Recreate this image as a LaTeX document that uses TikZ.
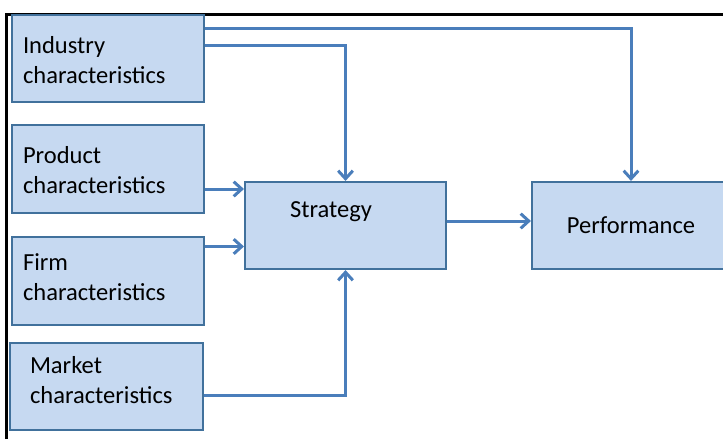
\documentclass[tikz,border=0pt]{standalone}
\usepackage{fontspec}
\setmainfont{Carlito}
\usetikzlibrary{arrows.meta,calc}
\definecolor{boxfill}{HTML}{C6D9F1}
\definecolor{boxline}{HTML}{41719C}
\definecolor{connblue}{HTML}{4A7EBB}
\tikzset{
  boxfont/.style={font=\fontsize{18.4}{22.5}\selectfont},
  box/.style={draw=boxline, fill=boxfill, line width=1.6pt, inner sep=0pt,
    minimum height=65.25pt, boxfont},
  sidebox/.style={box, minimum width=144pt},
  sidetext/.style={boxfont, align=left, text width=127.5pt, inner sep=0pt},
  conn/.style={draw=connblue, line width=2.25pt,
    -{Straight Barb[length=6pt,width=11pt]}},
  frame/.style={draw=black, line width=2pt}
}
\begin{document}
\begin{tikzpicture}[x=0.75pt,y=-0.75pt]
  \useasboundingbox (0,0) rectangle (723,439);
  \clip (0,0) rectangle (723,439);
  % outer frame (left and top edges)
  \draw[frame] (6.5,439) -- (6.5,14.5) -- (723,14.5);

  % input factors
  \node[sidebox, label={[sidetext, yshift=-1.5pt]center:Industry\\characteristics}]
    (ind) at (108,58.5) {};
  \node[sidebox, minimum height=66pt,
    label={[sidetext, yshift=-0.5pt]center:Product\\characteristics}]
    (prod) at (108,169) {};
  \node[sidebox, minimum height=66pt,
    label={[sidetext, yshift=2.6pt]center:Firm\\characteristics}]
    (firm) at (108,281) {};
  \node[box, minimum width=144.75pt,
    label={[sidetext, text width=114.75pt, yshift=4.5pt]center:Market\\characteristics}]
    (mkt) at (106.5,386.5) {};

  % strategy and outcome
  \node[box, minimum width=150.75pt,
        label={[boxfont, xshift=-10.9pt, yshift=10.1pt]center:Strategy}]
        (strat) at (345.5,225.5) {};
  \node[box, minimum width=148.5pt] (perf) at (631,225.5) {Performance};

  % connectors
  \draw[conn] ($(ind.east)+(0,-30.5)$) -| (perf.north);
  \draw[conn] ($(ind.east)+(0,-13.5)$) -| (strat.north);
  \draw[conn] ($(prod.east)+(0,20)$) coordinate (p1) -- (p1 -| strat.west);
  \draw[conn] ($(firm.east)+(0,-34.5)$) coordinate (f1) -- (f1 -| strat.west);
  \draw[conn] ($(mkt.east)+(0,8.5)$) -| (strat.south);
  \draw[conn] ($(strat.east)+(0,-4.5)$) coordinate (s1) -- (s1 -| perf.west);
\end{tikzpicture}
\end{document}
